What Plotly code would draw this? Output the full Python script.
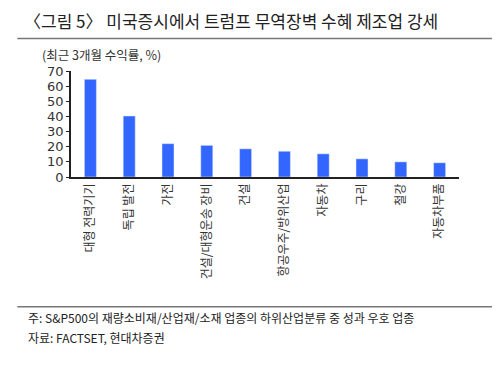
import plotly.graph_objects as go

categories = ["대형 전력기기", "독립 발전", "가전", "건설/대형운송 장비", "건설",
              "항공우주/방위산업", "자동차", "구리", "철강", "자동차부품"]
returns = [64.5, 40.3, 22.0, 20.9, 18.6, 17.0, 15.3, 12.0, 10.0, 9.4]
y_ticks = [0, 10, 20, 30, 40, 50, 60, 70]

W, H = 500, 368
L, R, T, B = 70.7, 459, 70.7, 177
FONT = "Noto Sans CJK KR, Noto Sans, sans-serif"

def px(x):
    return (x - L) / (R - L)

def py(y):
    return (B - y) / (B - T)

fig = go.Figure(go.Bar(
    x=categories, y=returns, marker_color="#3366FF", width=0.31,
))

fig.update_layout(
    width=W, height=H,
    margin=dict(l=L, r=W - R, t=T, b=H - B, pad=0, autoexpand=False),
    paper_bgcolor="white", plot_bgcolor="white",
    font=dict(family=FONT, color="#222"),
    showlegend=False, bargap=0.69,
)
fig.update_xaxes(
    showline=True, linecolor="#222", linewidth=1.5, ticks="", automargin=False,
    tickangle=-90, tickfont=dict(size=12, color="#333"), showgrid=False,
)
fig.update_yaxes(
    range=[0, 70], tickvals=y_ticks, showline=True, linecolor="#222", linewidth=1.5,
    ticks="outside", ticklen=3, tickcolor="#222", showgrid=False, zeroline=False,
    automargin=False, tickfont=dict(size=13, color="#333", family="DejaVu Sans"),
)

fig.add_annotation(text="〈그림 5〉 미국증시에서 트럼프 무역장벽 수혜 제조업 강세",
                   xref="paper", yref="paper", x=px(22), y=py(20), xanchor="left",
                   yanchor="middle", showarrow=False, font=dict(size=17, color="#222"))
fig.add_annotation(text="(최근 3개월 수익률, %)",
                   xref="paper", yref="paper", x=px(40), y=py(54), xanchor="left",
                   yanchor="middle", showarrow=False, font=dict(size=12.5, color="#333"))
fig.add_annotation(text="주: S&P500의 재량소비재/산업재/소재 업종의 하위산업분류 중 성과 우호 업종",
                   xref="paper", yref="paper", x=px(26), y=py(318), xanchor="left",
                   yanchor="middle", showarrow=False, font=dict(size=12, color="#222"))
fig.add_annotation(text="자료: FACTSET, 현대차증권",
                   xref="paper", yref="paper", x=px(26), y=py(338), xanchor="left",
                   yanchor="middle", showarrow=False, font=dict(size=12, color="#222"))

fig.add_shape(type="line", xref="paper", yref="paper", x0=px(17), x1=px(492),
              y0=py(38), y1=py(38), line=dict(color="#777", width=1.5))
fig.add_shape(type="line", xref="paper", yref="paper", x0=px(17), x1=px(492),
              y0=py(307), y1=py(307), line=dict(color="#777", width=1.5))

fig.write_html("out.html", config={"displayModeBar": False},
               post_script="document.body.style.margin='0';document.body.style.padding='0';")
